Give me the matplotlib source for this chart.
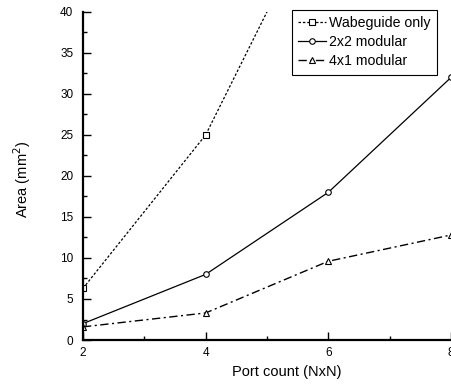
import numpy as np
import matplotlib
matplotlib.use("Agg")
import matplotlib.pyplot as plt
from matplotlib.ticker import MultipleLocator

ports = [2, 4, 6, 8]
waveguide = [6.3, 25.0, 55.0]
mod_2x2 = [2.0, 8.0, 18.0, 32.0]
mod_4x1 = [1.6, 3.3, 9.6, 12.8]

plt.rcParams['font.family'] = ['Liberation Sans', 'DejaVu Sans']

fig = plt.figure(figsize=(4.51, 3.87), dpi=100)
ax = fig.add_axes([0.184, 0.1214, 0.816, 0.848])

ax.plot(ports[:3], waveguide, linestyle=(0, (2, 1.5)), color='black', lw=0.9,
        marker='s', markersize=4, markerfacecolor='white', markeredgewidth=0.8,
        label='Wabeguide only')
ax.plot(ports, mod_2x2, linestyle='-', color='black', lw=0.9,
        marker='o', markersize=4, markerfacecolor='white', markeredgewidth=0.8,
        label='2x2 modular')
ax.plot(ports, mod_4x1, linestyle=(0, (6, 2.5, 1.5, 2.5)), color='black', lw=1.0,
        marker='^', markersize=4, markerfacecolor='white', markeredgewidth=0.8,
        label='4x1 modular')

ax.set_xlim(2, 8)
ax.set_ylim(0, 40)
ax.xaxis.set_major_locator(MultipleLocator(2))
ax.xaxis.set_minor_locator(MultipleLocator(1))
ax.yaxis.set_major_locator(MultipleLocator(5))
ax.yaxis.set_minor_locator(MultipleLocator(2.5))
ax.tick_params(which='both', direction='in', labelsize=8.5, width=1, color='black')
ax.tick_params(which='major', length=6)
ax.tick_params(which='minor', length=3)
ax.tick_params(axis='x', pad=5)
ax.tick_params(axis='y', pad=7)

for s in ['top', 'right']:
    ax.spines[s].set_visible(False)
for s in ['left', 'bottom']:
    ax.spines[s].set_linewidth(1.6)

ax.set_xlabel('Port count (NxN)', fontsize=10.5)
ax.set_ylabel('Area (mm$^2$)', fontsize=10.5)
ax.xaxis.set_label_coords(0.554, -0.075)
ax.yaxis.set_label_coords(-0.135, 0.49)

leg = ax.legend(loc='upper right', bbox_to_anchor=(0.962, 1.006), fontsize=10.2,
                frameon=True, fancybox=False, edgecolor='black', framealpha=1,
                handlelength=2.0, handletextpad=0.2, labelspacing=0.35,
                borderpad=0.45, borderaxespad=0)
leg.get_frame().set_linewidth(0.8)
for sp in ax.spines.values():
    sp.set_clip_on(False)

fig.savefig('out.png', dpi=100)
